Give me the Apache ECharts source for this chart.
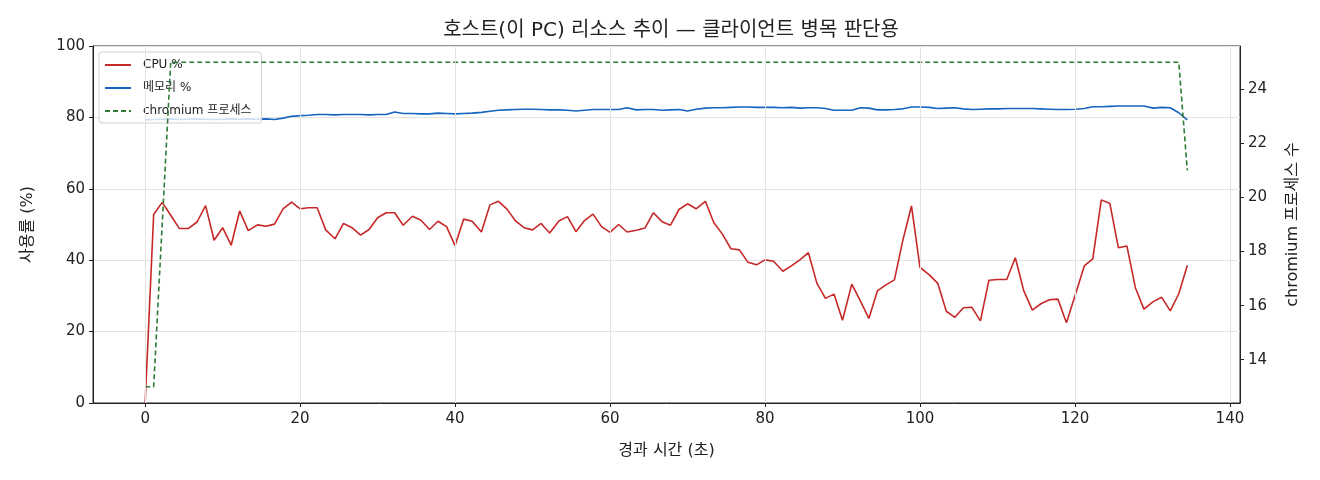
<!DOCTYPE html>
<html>
<head>
<meta charset="UTF-8">
<script src="https://cdn.jsdelivr.net/npm/echarts@6/dist/echarts.min.js"></script>
<style>
  html, body { margin: 0; padding: 0; background: #fff; }
  #main { width: 1320px; height: 480px; }
</style>
</head>
<body>
<div id="main"></div>
<script>
// 경과 시간 (초)
var times = [
  0.0, 1.1, 2.2, 3.3, 4.4, 5.6, 6.7, 7.8, 8.9, 10.0,
  11.1, 12.2, 13.3, 14.5, 15.6, 16.7, 17.8, 18.9, 20.0, 21.1,
  22.2, 23.3, 24.5, 25.6, 26.7, 27.8, 28.9, 30.0, 31.1, 32.2,
  33.3, 34.5, 35.6, 36.7, 37.8, 38.9, 40.0, 41.1, 42.2, 43.4,
  44.5, 45.6, 46.7, 47.8, 48.9, 50.0, 51.1, 52.2, 53.4, 54.5,
  55.6, 56.7, 57.8, 58.9, 60.0, 61.1, 62.2, 63.4, 64.5, 65.6,
  66.7, 67.8, 68.9, 70.0, 71.1, 72.3, 73.4, 74.5, 75.6, 76.7,
  77.8, 78.9, 80.0, 81.1, 82.3, 83.4, 84.5, 85.6, 86.7, 87.8,
  88.9, 90.0, 91.2, 92.3, 93.4, 94.5, 95.6, 96.7, 97.8, 98.9,
  100.0, 101.2, 102.3, 103.4, 104.5, 105.6, 106.7, 107.8, 108.9, 110.0,
  111.2, 112.3, 113.4, 114.5, 115.6, 116.7, 117.8, 118.9, 120.1, 121.2,
  122.3, 123.4, 124.5, 125.6, 126.7, 127.8, 128.9, 130.1, 131.2, 132.3,
  133.4, 134.5
];

var cpu = [
  0, 52.8, 56.2, 52.6, 48.9, 48.9, 50.7, 55.3, 45.6, 49.1,
  44.2, 53.8, 48.3, 49.9, 49.5, 50.1, 54.4, 56.3, 54.4, 54.7,
  54.7, 48.5, 46.0, 50.3, 49.1, 47.0, 48.6, 51.9, 53.3, 53.3,
  49.8, 52.3, 51.2, 48.6, 50.9, 49.4, 44.1, 51.5, 50.9, 47.9,
  55.5, 56.5, 54.3, 51.0, 49.1, 48.5, 50.3, 47.6, 51.0, 52.2,
  48.0, 51.1, 52.9, 49.4, 47.8, 50.0, 47.9, 48.4, 49.0, 53.3,
  50.8, 49.8, 54.2, 55.8, 54.4, 56.5, 50.5, 47.3, 43.2, 42.9,
  39.4, 38.7, 40.1, 39.7, 36.9, 38.4, 40.1, 42.1, 33.5, 29.3,
  30.5, 23.2, 33.3, 28.6, 23.7, 31.4, 33.1, 34.5, 45.7, 55.2,
  38.0, 35.9, 33.5, 25.7, 24.0, 26.7, 26.8, 23.0, 34.4, 34.6,
  34.6, 40.7, 31.4, 26.0, 27.8, 28.9, 29.1, 22.5, 30.7, 38.4,
  40.4, 56.9, 55.9, 43.5, 44.0, 32.3, 26.3, 28.4, 29.6, 25.8,
  30.6, 38.5
];

var mem = [
  79.3, 79.4, 79.5, 79.6, 79.4, 79.5, 79.6, 79.5, 79.4, 79.5,
  79.6, 79.5, 79.6, 79.5, 79.6, 79.4, 79.8, 80.3, 80.5, 80.6,
  80.8, 80.8, 80.7, 80.8, 80.8, 80.8, 80.7, 80.8, 80.8, 81.5,
  81.1, 81.1, 81.0, 81.0, 81.2, 81.1, 81.0, 81.1, 81.2, 81.4,
  81.7, 82.0, 82.1, 82.2, 82.3, 82.3, 82.2, 82.1, 82.1, 82.0,
  81.8, 82.0, 82.2, 82.2, 82.2, 82.2, 82.7, 82.1, 82.2, 82.2,
  82.0, 82.1, 82.2, 81.8, 82.3, 82.6, 82.7, 82.7, 82.8, 82.9,
  82.9, 82.8, 82.8, 82.8, 82.7, 82.8, 82.6, 82.7, 82.7, 82.5,
  82.0, 82.0, 82.0, 82.7, 82.6, 82.1, 82.1, 82.2, 82.4, 82.9,
  82.9, 82.8, 82.5, 82.6, 82.7, 82.4, 82.2, 82.3, 82.4, 82.4,
  82.5, 82.5, 82.5, 82.5, 82.4, 82.3, 82.2, 82.2, 82.3, 82.5,
  83.0, 83.0, 83.1, 83.2, 83.2, 83.2, 83.2, 82.6, 82.8, 82.7,
  81.3, 79.3
];

var procs = [
  13, 13, 19, 25, 25, 25, 25, 25, 25, 25,
  25, 25, 25, 25, 25, 25, 25, 25, 25, 25,
  25, 25, 25, 25, 25, 25, 25, 25, 25, 25,
  25, 25, 25, 25, 25, 25, 25, 25, 25, 25,
  25, 25, 25, 25, 25, 25, 25, 25, 25, 25,
  25, 25, 25, 25, 25, 25, 25, 25, 25, 25,
  25, 25, 25, 25, 25, 25, 25, 25, 25, 25,
  25, 25, 25, 25, 25, 25, 25, 25, 25, 25,
  25, 25, 25, 25, 25, 25, 25, 25, 25, 25,
  25, 25, 25, 25, 25, 25, 25, 25, 25, 25,
  25, 25, 25, 25, 25, 25, 25, 25, 25, 25,
  25, 25, 25, 25, 25, 25, 25, 25, 25, 25,
  25, 21
];

var xTicks = [0, 20, 40, 60, 80, 100, 120, 140];
var rightTicks = [14, 16, 18, 20, 22, 24];

function pairs(vals) {
  var out = [];
  for (var i = 0; i < vals.length; i++) out.push([times[i], vals[i]]);
  return out;
}

var font = '"DejaVu Sans", "Noto Sans CJK KR", sans-serif';
var gridColor = '#e3e3e3';
var ink = '#222';

var myChart = echarts.init(document.getElementById('main'));
myChart.setOption({
  animation: false,
  backgroundColor: '#fff',
  textStyle: { fontFamily: font },
  title: {
    text: '호스트(이 PC) 리소스 추이 — 클라이언트 병목 판단용',
    left: 666, top: 16, textAlign: 'center',
    textStyle: { fontFamily: font, fontSize: 20, fontWeight: 'normal', color: ink }
  },
  grid: {
    left: 93, right: 80, top: 46, bottom: 77,
    show: true, borderColor: ink, borderWidth: 1, backgroundColor: 'transparent'
  },
  legend: {
    data: ['CPU %', '메모리 %', 'chromium 프로세스'],
    orient: 'vertical',
    left: 99, top: 52,
    itemWidth: 26, itemHeight: 12, itemGap: 11,
    padding: [7, 10, 6, 5],
    itemStyle: { opacity: 0 },
    backgroundColor: 'rgba(255,255,255,0.8)',
    borderColor: '#d0d0d0', borderWidth: 1, borderRadius: 3,
    textStyle: { fontFamily: font, fontSize: 12, color: ink, padding: [0, 0, 0, 7] }
  },
  xAxis: {
    type: 'value', min: -6.73, max: 141.3,
    name: '경과 시간 (초)', nameLocation: 'middle', nameGap: 40,
    nameTextStyle: { fontFamily: font, fontSize: 16, color: ink },
    axisLine: { onZero: false, lineStyle: { color: ink } },
    axisTick: { show: true, length: 4, customValues: xTicks, lineStyle: { color: ink } },
    axisLabel: { customValues: xTicks, margin: 9, fontSize: 15, color: ink, fontFamily: font },
    splitLine: { show: false }
  },
  yAxis: [{
    type: 'value', min: 0, max: 100, interval: 20, position: 'left',
    name: '사용률 (%)', nameLocation: 'middle', nameGap: 57, nameRotate: 90,
    nameTextStyle: { fontFamily: font, fontSize: 16, color: ink },
    axisLine: { show: true, onZero: false, lineStyle: { color: ink } },
    axisTick: { show: true, length: 4, lineStyle: { color: ink } },
    axisLabel: { margin: 8, fontSize: 15, color: ink, fontFamily: font },
    splitLine: { show: true, lineStyle: { color: gridColor, width: 1 } }
  }, {
    type: 'value', min: 12.4, max: 25.6, position: 'right',
    name: 'chromium 프로세스 수', nameLocation: 'middle', nameGap: 45, nameRotate: 90,
    nameTextStyle: { fontFamily: font, fontSize: 16, color: ink },
    axisLine: { show: true, onZero: false, lineStyle: { color: ink } },
    axisTick: { show: true, length: 4, customValues: rightTicks, lineStyle: { color: ink } },
    axisLabel: { customValues: rightTicks, margin: 8, fontSize: 15, color: ink, fontFamily: font },
    splitLine: { show: false }
  }],
  series: [{
    // 세로 격자선용
    name: 'grid',
    type: 'line', z: 1, silent: true,
    data: pairs(cpu), symbol: 'none',
    lineStyle: { opacity: 0, width: 0 },
    markLine: {
      silent: true, symbol: 'none', label: { show: false },
      lineStyle: { color: gridColor, type: 'solid', width: 1 },
      data: xTicks.map(function (v) { return { xAxis: v }; })
    }
  }, {
    name: 'CPU %', type: 'line', yAxisIndex: 0, z: 3,
    data: pairs(cpu), symbol: 'none',
    lineStyle: { color: '#c62828', width: 1.6 }, itemStyle: { color: '#c62828' }
  }, {
    name: '메모리 %', type: 'line', yAxisIndex: 0, z: 3,
    data: pairs(mem), symbol: 'none',
    lineStyle: { color: '#1565c0', width: 1.6 }, itemStyle: { color: '#1565c0' }
  }, {
    name: 'chromium 프로세스', type: 'line', yAxisIndex: 1, z: 4,
    data: pairs(procs), symbol: 'none',
    lineStyle: { color: '#2e7d32', width: 1.6, type: [5, 3] }, itemStyle: { color: '#2e7d32' }
  }]
});
</script>
</body>
</html>
